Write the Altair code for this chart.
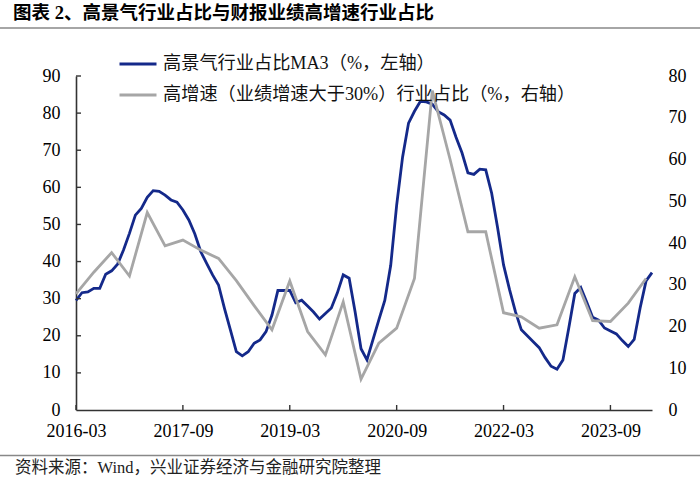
import altair as alt
import pandas as pd

TITLE = "图表 2、高景气行业占比与财报业绩高增速行业占比"
SOURCE = "资料来源：Wind，兴业证券经济与金融研究院整理"
SERIES = ["高景气行业占比MA3（%，左轴）", "高增速（业绩增速大于30%）行业占比（%，右轴）"]

# Monthly series (left axis), starting 2016-03
blue_start = "2016-03"
blue_values = [
    29.5, 31.6, 31.8, 32.8, 32.8, 36.6, 37.5, 39.3, 43.1, 47.6,
    52.5, 54.3, 57.3, 59.1, 58.9, 57.9, 56.6, 56.0, 53.9, 51.2,
    47.5, 42.7, 39.5, 36.4, 33.7, 27.4, 21.6, 15.7, 14.6, 15.7,
    18.0, 18.9, 21.1, 25.6, 32.2, 32.2, 32.2, 28.9, 29.6, 28.0,
    26.4, 24.5, 26.0, 27.5, 31.5, 36.4, 35.5, 26.5, 16.5, 13.5,
    18.9, 24.3, 29.5, 39.0, 55.2, 68.2, 77.3, 80.5, 83.2, 83.0,
    82.4, 80.4, 79.5, 78.1, 73.5, 69.3, 63.9, 63.5, 64.9, 64.7,
    58.4, 49.1, 39.1, 32.5, 26.5, 21.6, 20.0, 18.4, 16.8, 14.1,
    11.8, 11.0, 13.5, 22.2, 31.4, 33.0, 29.1, 25.0, 24.2, 22.1,
    21.3, 20.5, 18.7, 17.1, 19.0, 27.5, 34.8, 37.0,
]

# Quarterly series (right axis)
gray_dates = [
    "2016-03", "2016-06", "2016-09", "2016-12", "2017-03", "2017-06", "2017-09", "2017-12",
    "2018-03", "2018-06", "2018-09", "2018-12", "2019-03", "2019-06", "2019-09", "2019-12",
    "2020-03", "2020-06", "2020-09", "2020-12", "2021-03", "2021-06", "2021-09", "2021-12",
    "2022-03", "2022-06", "2022-09", "2022-12", "2023-03", "2023-06", "2023-09", "2023-12",
    "2024-03",
]
gray_values = [
    27.8, 33.0, 37.7, 32.1, 47.3, 39.3, 40.7, 38.3,
    36.3, 31.0, 25.0, 19.2, 30.9, 18.8, 13.2, 25.9,
    7.4, 16.0, 19.6, 31.5, 76.5, 60.0, 42.7, 42.7,
    23.3, 22.3, 19.6, 20.4, 31.9, 21.4, 21.2, 25.6,
    31.5,
]

tick_labels = ["2016-03", "2017-09", "2019-03", "2020-09", "2022-03", "2023-09"]
left_ticks = [0, 10, 20, 30, 40, 50, 60, 70, 80, 90]
right_ticks = [0, 10, 20, 30, 40, 50, 60, 70, 80]

BLUE = "#14298A"
GRAY = "#A6A6A6"
AXIS_COLOR = "#333333"
FONT = "'Liberation Serif', 'Noto Sans CJK SC'"


def month_index(s):
    y, m = s.split("-")
    return (int(y) - 2016) * 12 + (int(m) - 3)


blue_dates = [str(p) for p in pd.period_range(blue_start, periods=len(blue_values), freq="M")]
df_blue = pd.DataFrame({"m": [month_index(d) for d in blue_dates], "v": blue_values, "s": SERIES[0]})
df_gray = pd.DataFrame({"m": [month_index(d) for d in gray_dates], "v": gray_values, "s": SERIES[1]})
tick_pos = [month_index(t) for t in tick_labels]
df_xt = pd.DataFrame({"m": tick_pos})
df_lt = pd.DataFrame({"v": left_ticks[1:]})

W, H = 576, 334
x_max = df_blue["m"].max()
label_expr = "[" + ",".join("'%s'" % t for t in tick_labels) + "][round(datum.value/18)]"

x_enc = alt.X(
    "m:Q",
    scale=alt.Scale(domain=[0, x_max], nice=False, zero=False),
    axis=alt.Axis(
        values=tick_pos, labelExpr=label_expr, title=None, ticks=False, grid=False,
        labelPadding=12, labelFontSize=18, labelFont=FONT, labelColor="#000",
        domainColor=AXIS_COLOR, domainWidth=1.6, labelFlush=False, labelOverlap=False,
    ),
)

color_enc = alt.Color(
    "s:N",
    scale=alt.Scale(domain=SERIES, range=[BLUE, GRAY]),
    legend=alt.Legend(
        orient="none", legendX=42, legendY=-32, title=None, symbolType="stroke",
        symbolSize=1369, symbolStrokeWidth=3, labelFontSize=18.2, labelFont=FONT,
        labelColor="#111", labelOffset=5, rowPadding=2, padding=0, labelLimit=0,
    ),
)

left_scale = alt.Scale(domain=[0, 90], nice=False, zero=True)
right_scale = alt.Scale(domain=[0, 80], nice=False, zero=True)

blue_line = alt.Chart(df_blue).mark_line(strokeWidth=2.8).encode(
    x=x_enc,
    y=alt.Y("v:Q", scale=left_scale, axis=alt.Axis(
        orient="left", values=left_ticks, ticks=False, grid=False, title=None,
        labelPadding=16, labelFontSize=18, labelFont=FONT, labelColor="#000",
        domainColor=AXIS_COLOR, domainWidth=1.6)),
    color=color_enc,
)

left_tick_marks = alt.Chart(df_lt).mark_rule(color=AXIS_COLOR, strokeWidth=1.4).encode(
    y=alt.Y("v:Q", scale=left_scale, axis=None),
    x=alt.value(0), x2=alt.value(5),
)

gray_line = alt.Chart(df_gray).mark_line(strokeWidth=2.8).encode(
    x=x_enc,
    y=alt.Y("v:Q", scale=right_scale, axis=alt.Axis(
        orient="right", values=right_ticks, ticks=False, grid=False, title=None,
        domain=False, labelPadding=16, labelFontSize=18, labelFont=FONT,
        labelColor="#000", labelAlign="left")),
    color=color_enc,
)

x_tick_marks = alt.Chart(df_xt).mark_rule(color=AXIS_COLOR, strokeWidth=1.4).encode(
    x=x_enc, y=alt.value(H), y2=alt.value(H - 5),
)

title_text = alt.Chart(pd.DataFrame({"t": [TITLE]})).mark_text(
    align="left", baseline="middle", fontSize=18.5, fontWeight="bold", font=FONT, color="#000"
).encode(text="t:N", x=alt.value(-63), y=alt.value(-63.5))

source_text = alt.Chart(pd.DataFrame({"t": [SOURCE]})).mark_text(
    align="left", baseline="middle", fontSize=16.5, font=FONT, color="#222"
).encode(text="t:N", x=alt.value(-61), y=alt.value(392))

top_rule = alt.Chart(pd.DataFrame({"a": [0]})).mark_rule(color="#888", strokeWidth=1.5).encode(
    x=alt.value(-76), x2=alt.value(624), y=alt.value(-48))
bottom_rule = alt.Chart(pd.DataFrame({"a": [0]})).mark_rule(color="#888", strokeWidth=1.5).encode(
    x=alt.value(-76), x2=alt.value(624), y=alt.value(379.5))

chart = alt.layer(
    blue_line, left_tick_marks, gray_line, x_tick_marks,
    title_text, source_text, top_rule, bottom_rule,
).resolve_scale(y="independent").properties(
    width=W, height=H,
    autosize=alt.AutoSizeParams(type="none"),
    padding={"left": 76, "top": 76, "right": 48, "bottom": 76},
).configure_view(stroke=None)

chart.save("out.html", embed_options={"renderer": "svg", "actions": False})
